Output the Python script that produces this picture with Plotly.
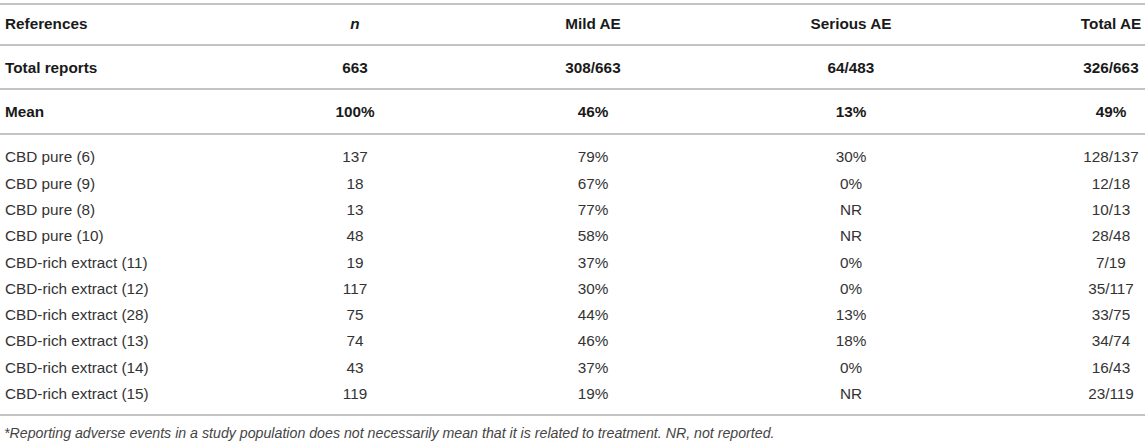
import plotly.graph_objects as go

# ---------------- data ----------------
columns = ["References", "<i>n</i>", "Mild AE", "Serious AE", "Total AE"]

summary_labels = ["Total reports", "Mean"]
summary_n = ["663", "100%"]
summary_mild = ["308/663", "46%"]
summary_serious = ["64/483", "13%"]
summary_total = ["326/663", "49%"]

refs = ["CBD pure (6)", "CBD pure (9)", "CBD pure (8)", "CBD pure (10)",
        "CBD-rich extract (11)", "CBD-rich extract (12)", "CBD-rich extract (28)",
        "CBD-rich extract (13)", "CBD-rich extract (14)", "CBD-rich extract (15)"]
n_vals = [137, 18, 13, 48, 19, 117, 75, 74, 43, 119]
mild_pct = [79, 67, 77, 58, 37, 30, 44, 46, 37, 19]
serious_ae = ["30%", "0%", "NR", "NR", "0%", "0%", "13%", "18%", "0%", "NR"]
total_ae = [128, 12, 10, 28, 7, 35, 33, 34, 16, 23]

footnote = ("*Reporting adverse events in a study population does not necessarily "
            "mean that it is related to treatment. NR, not reported.")

# ---------------- layout constants ----------------
W, H = 1145, 443
COL_X = [5, 355, 593, 851, 1111]
TEXT_DY = 1.5
HEAD_Y0, HEAD_STEP = 24, 44
BODY_Y0, BODY_STEP = 157, 26.3
FONT = "Liberation Sans, Arial, Helvetica, sans-serif"
TXT = "#333333"
BOLD = "#1a1a1a"
LINE = "#c4c4c4"

# build column texts
col_text = [
    [f"<b>{columns[0]}</b>"] + [f"<b>{s}</b>" for s in summary_labels] + refs,
    [f"<b>{columns[1]}</b>"] + [f"<b>{s}</b>" for s in summary_n] + [str(v) for v in n_vals],
    [f"<b>{columns[2]}</b>"] + [f"<b>{s}</b>" for s in summary_mild] + [f"{v}%" for v in mild_pct],
    [f"<b>{columns[3]}</b>"] + [f"<b>{s}</b>" for s in summary_serious] + serious_ae,
    [f"<b>{columns[4]}</b>"] + [f"<b>{s}</b>" for s in summary_total]
    + [f"{a}/{n}" for a, n in zip(total_ae, n_vals)],
]
n_rows = len(col_text[0])
row_y = [HEAD_Y0 + TEXT_DY + HEAD_STEP * i for i in range(3)] + \
        [BODY_Y0 + TEXT_DY + BODY_STEP * i for i in range(n_rows - 3)]
row_col = [BOLD] * 3 + [TXT] * (n_rows - 3)

fig = go.Figure()
for ci, texts in enumerate(col_text):
    fig.add_trace(go.Scatter(
        x=[COL_X[ci]] * n_rows, y=row_y, text=texts, mode="text",
        textposition="middle right" if ci == 0 else "middle center",
        textfont=dict(family=FONT, size=15.3, color=row_col),
        hoverinfo="skip", showlegend=False, cliponaxis=False))

# horizontal rules
rule_y = [4, 45, 89, 134, 415]
for yv in rule_y:
    fig.add_shape(type="line", xref="x", yref="y", x0=0, x1=W, y0=yv, y1=yv,
                  line=dict(color=LINE, width=2))

fig.add_annotation(x=2, y=433, xref="x", yref="y", text=f"<i>{footnote}</i>",
                   showarrow=False, xanchor="left", yanchor="middle",
                   font=dict(family=FONT, size=14.2, color="#444444"))

fig.update_layout(
    width=W, height=H, margin=dict(l=0, r=0, t=0, b=0),
    paper_bgcolor="white", plot_bgcolor="white",
    xaxis=dict(range=[0, W], visible=False, fixedrange=True),
    yaxis=dict(range=[H, 0], visible=False, fixedrange=True),
)
fig.write_html(
    "out.html",
    config={"displayModeBar": False},
    post_script="document.body.style.margin='0';document.body.style.overflow='hidden';",
)
